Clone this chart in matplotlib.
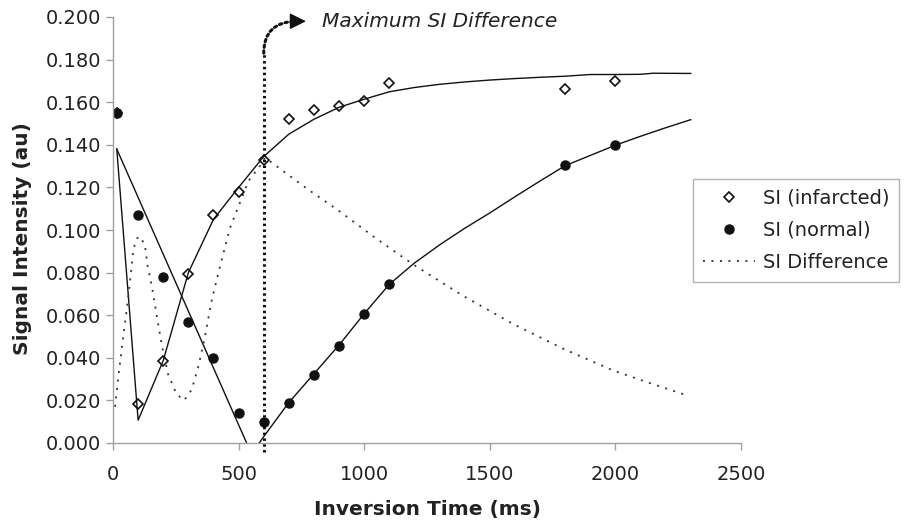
import numpy as np
import matplotlib.pyplot as plt
from matplotlib.patches import FancyArrowPatch

# measured points
ti = [15, 100, 200, 300, 400, 500, 600, 700, 800, 900, 1000, 1100, 1800, 2000]
si_infarct = [0.155, 0.0185, 0.0387, 0.0794, 0.107, 0.118, 0.133, 0.152, 0.1563, 0.158, 0.1605, 0.169, 0.166, 0.170]
si_normal = [0.155, 0.107, 0.078, 0.057, 0.040, 0.0143, 0.0099, 0.0188, 0.032, 0.0457, 0.0607, 0.0747, 0.1304, 0.140]

# fitted curves
fit_inf_t = [15, 100, 200, 300, 400, 500, 600, 700, 800, 900, 1000, 1100, 1200, 1300, 1400,
             1500, 1600, 1700, 1800, 1900, 2000, 2100, 2150, 2300]
fit_inf = [0.138, 0.0107, 0.0387, 0.080, 0.105, 0.120, 0.1345, 0.145, 0.152, 0.1576, 0.1614,
           0.1649, 0.1669, 0.1684, 0.1695, 0.1704, 0.1711, 0.1717, 0.1722, 0.1730, 0.1730,
           0.1731, 0.1736, 0.1735]

fit_norm_t = [15, 532, np.nan, 582, 600, 700, 800, 900, 1000, 1100, 1200, 1300, 1400, 1500,
              1600, 1700, 1800, 1900, 2000, 2100, 2200, 2300]
fit_norm = [0.138, 0.0, np.nan, 0.0, 0.003, 0.019, 0.0325, 0.046, 0.0607, 0.0745, 0.0845, 0.093,
            0.1008, 0.108, 0.1156, 0.123, 0.1302, 0.135, 0.1398, 0.1440, 0.1480, 0.1518]

diff_t = [8, 21, 41, 54, 68, 81, 95, 107, 127, 138, 154, 174, 194, 220, 253, 283, 313, 340,
          366, 393, 426, 466, 539, 585, 605, 771, 904, 1036, 1195, 1395, 1594, 1793, 1992,
          2125, 2284]
diff_si = [0.017, 0.031, 0.050, 0.062, 0.076, 0.091, 0.096, 0.097, 0.093, 0.083, 0.074, 0.060,
           0.046, 0.032, 0.023, 0.020, 0.025, 0.036, 0.050, 0.067, 0.083, 0.101, 0.123, 0.130,
           0.134, 0.1195, 0.1086, 0.097, 0.0838, 0.069, 0.0558, 0.0442, 0.034, 0.0286, 0.0224]

max_ti = 600
bend_y = 0.183
arrow_y = 0.198
bend_end_x = 735
arrow_tip_x = 768
xticks = [0, 500, 1000, 1500, 2000, 2500]
yticks = [0.0, 0.02, 0.04, 0.06, 0.08, 0.1, 0.12, 0.14, 0.16, 0.18, 0.2]

plt.rcParams['font.family'] = ['DejaVu Sans']
text_col = '#222222'
axis_col = '#a0a0a0'

fig = plt.figure(figsize=(9.06, 5.25), dpi=100)
ax = fig.add_axes([113 / 906, 1 - 443 / 525, 628 / 906, 426 / 525])

ax.plot(fit_inf_t, fit_inf, color='#111111', lw=1.0)
ax.plot(fit_norm_t, fit_norm, color='#111111', lw=1.0)
ax.plot(diff_t, diff_si, color='#333333', lw=1.3, linestyle=(0, (1.1, 3.6)), label='SI Difference')
ax.plot(ti, si_infarct, linestyle='none', marker='D', ms=5.5, mfc='none', mec='#111111',
        mew=1.2, label='SI (infarcted)')
ax.plot(ti, si_normal, linestyle='none', marker='o', ms=6.5, mfc='#111111', mec='#111111',
        label='SI (normal)')

# maximum difference marker: dotted vertical line bending into an arrow
dots = (0, (0.8, 1.1))
ax.plot([max_ti, max_ti], [-0.004, bend_y], color='#111111', lw=2.2, linestyle=dots,
        clip_on=False, solid_capstyle='butt')
bend = FancyArrowPatch((max_ti, bend_y), (bend_end_x, arrow_y),
                       connectionstyle='angle3,angleA=90,angleB=0', arrowstyle='-',
                       lw=2.2, linestyle=dots, color='#111111', clip_on=False,
                       shrinkA=0, shrinkB=0)
ax.add_patch(bend)
head = FancyArrowPatch((bend_end_x, arrow_y), (arrow_tip_x, arrow_y),
                       arrowstyle='-|>,head_length=0.5,head_width=0.25', mutation_scale=20,
                       lw=1.0, color='#111111', clip_on=False, shrinkA=0, shrinkB=0)
ax.add_patch(head)
ax.text(831, arrow_y, 'Maximum SI Difference', style='italic', fontsize=14.5, color=text_col,
        ha='left', va='center')

ax.set_xlim(0, 2500)
ax.set_ylim(0, 0.2)
ax.set_xticks(xticks)
ax.set_yticks(yticks)
ax.set_yticklabels(['%.3f' % v for v in yticks])
for s in ['top', 'right']:
    ax.spines[s].set_visible(False)
for s in ['left', 'bottom']:
    ax.spines[s].set_color(axis_col)
    ax.spines[s].set_linewidth(1.0)
ax.tick_params(direction='out', length=5, width=1.0, color=axis_col, labelsize=14,
               labelcolor=text_col)
ax.tick_params(axis='x', pad=11)
ax.tick_params(axis='y', pad=3.5)

ax.set_xlabel('Inversion Time (ms)', fontsize=14.5, fontweight='bold', color=text_col)
ax.xaxis.set_label_coords(0.5, -0.134)
ax.set_ylabel('Signal Intensity (au)', fontsize=14.5, fontweight='bold', color=text_col)
ax.yaxis.set_label_coords(-0.129, 0.48)

h, l = ax.get_legend_handles_labels()
order = [1, 2, 0]
leg = ax.legend([h[i] for i in order], [l[i] for i in order], loc='upper left',
                bbox_to_anchor=(693 / 906, 1 - 179 / 525), bbox_transform=fig.transFigure,
                borderaxespad=0, fontsize=14, frameon=True, fancybox=False, edgecolor=axis_col,
                handlelength=2.7, handletextpad=0.4, borderpad=0.5, labelspacing=0.68)
leg.get_frame().set_linewidth(1.0)
for t in leg.get_texts():
    t.set_color(text_col)

fig.savefig('out.png', dpi=100)
